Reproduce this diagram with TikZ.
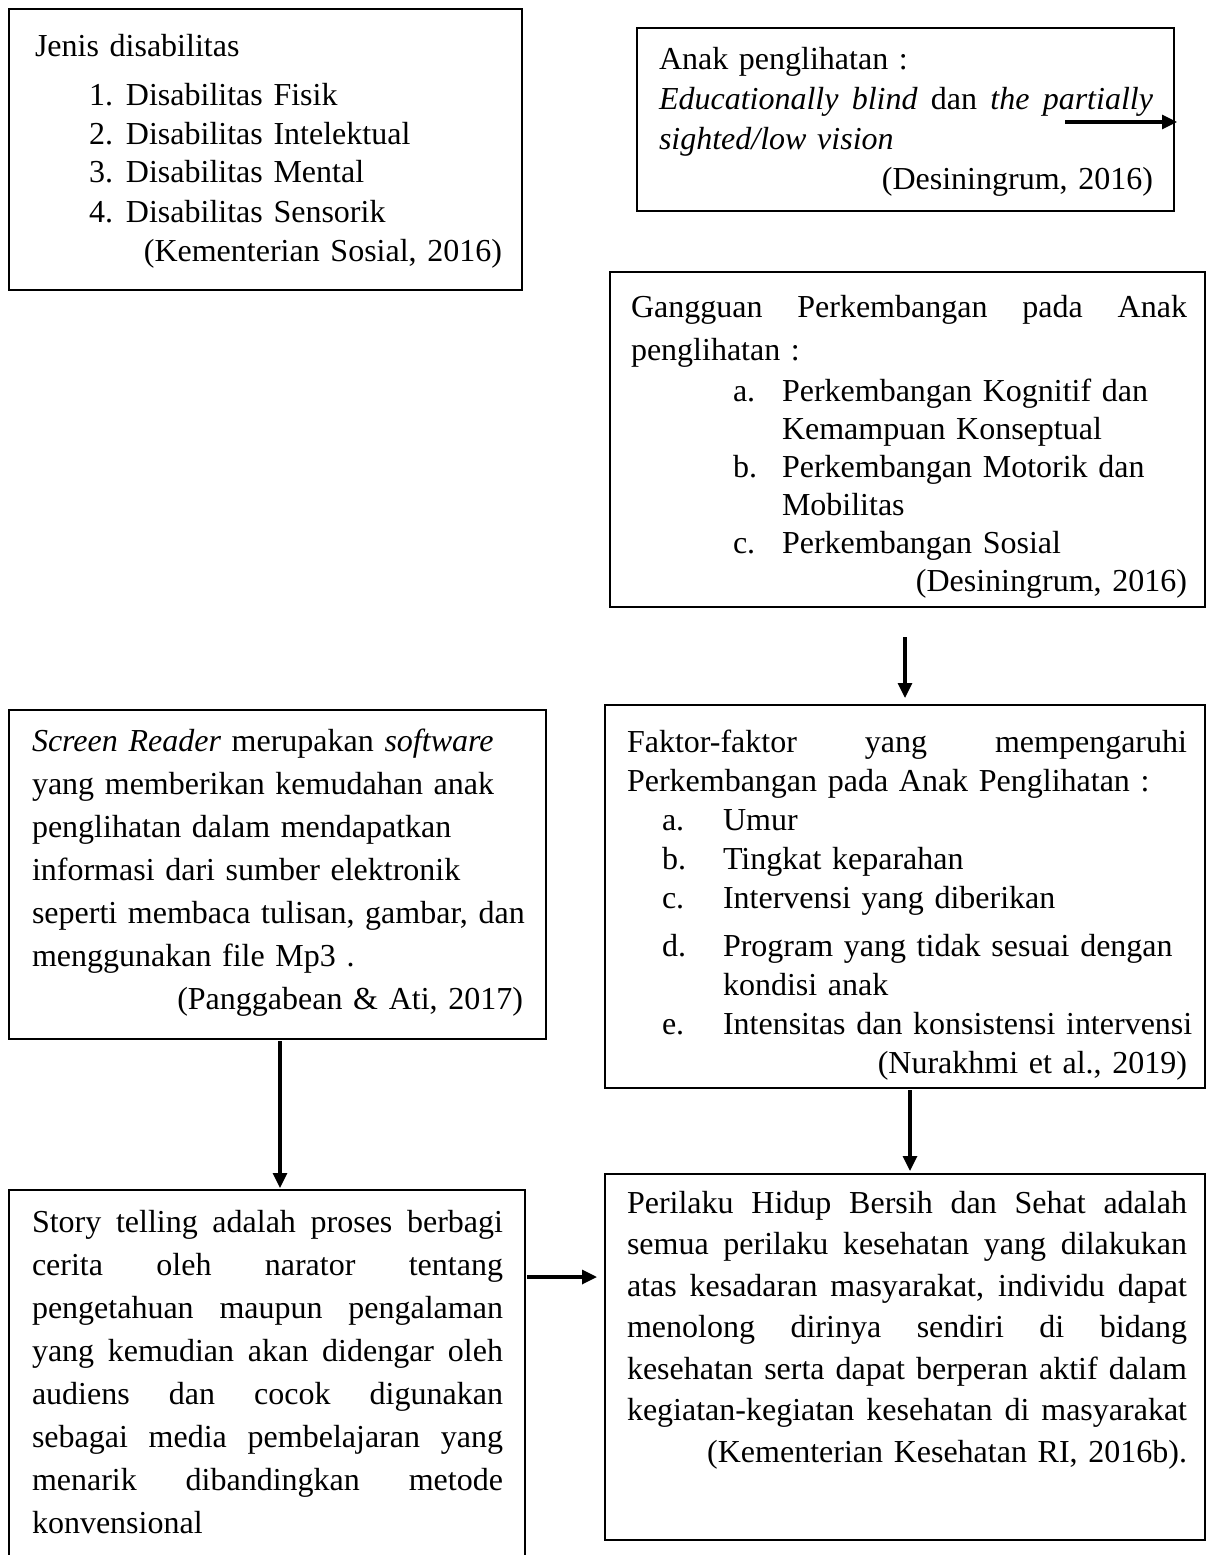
\documentclass[tikz,border=0pt]{standalone}
\usepackage{fontspec}
\setmainfont{Liberation Serif}
\usetikzlibrary{arrows.meta}
\tikzset{
  box/.style={draw, line width=2.2pt, anchor=north west, inner sep=0pt, outer sep=0pt},
  txt/.style={anchor=base west, inner sep=0pt, outer sep=0pt, align=left, text width=#1},
  lsk/.style={font=\fontsize{32pt}{#1}\selectfont},
  arr/.style={line width=3.2pt, -{Triangle[length=15pt,width=14pt]}}
}
\newcommand{\jline}[1]{\makebox[\linewidth][s]{\spaceskip=.25em plus 1fil\relax#1}}
\newcommand{\rline}[1]{\makebox[\linewidth][r]{#1}}
\newcommand{\oneline}[1]{\mbox{#1}}
\begin{document}
\begin{tikzpicture}[x=1pt,y=-1pt]
\useasboundingbox (0,0) rectangle (1206,1555);
\clip (0,0) rectangle (1206,1555);

% boxes
\node[box, minimum width=513pt, minimum height=281pt] (b1) at (9,9) {};
\node[box, minimum width=537pt, minimum height=183pt] (b2) at (637,28) {};
\node[box, minimum width=595pt, minimum height=335pt] (b3) at (610,272) {};
\node[box, minimum width=600pt, minimum height=383pt] (b4) at (605,705) {};
\node[box, minimum width=537pt, minimum height=329pt] (b5) at (9,710) {};
\node[box, minimum width=516pt, minimum height=420pt] (b6) at (9,1190) {};
\node[box, minimum width=600pt, minimum height=366pt] (b7) at (605,1174) {};

% texts
\node[txt=467pt, lsk=39pt] (t1) at (35,57) {\oneline{Jenis disabilitas}\\[9pt]
\oneline{\hspace*{54pt}\makebox[37pt][l]{1.}Disabilitas Fisik}\\
\oneline{\hspace*{54pt}\makebox[37pt][l]{2.}Disabilitas Intelektual}\\
\oneline{\hspace*{54pt}\makebox[37pt][l]{3.}Disabilitas Mental}\\
\oneline{\hspace*{54pt}\makebox[37pt][l]{4.}Disabilitas Sensorik}\\
\rline{(Kementerian Sosial, 2016)}};

\node[txt=494pt, lsk=40pt] (t2) at (659,70) {\oneline{Anak penglihatan :}\\
\jline{\textit{Educationally} \textit{blind} dan \textit{the} \textit{partially}}\\
\oneline{\textit{sighted/low vision}}\\
\rline{(Desiningrum, 2016)}};

\node[txt=556pt, lsk=38pt] (t3) at (631,317) {\jline{Gangguan Perkembangan pada Anak}\\[5pt]
\oneline{penglihatan :}\\[3pt]
\oneline{\hspace*{102pt}\makebox[49pt][l]{a.}Perkembangan Kognitif dan}\\
\oneline{\hspace*{151pt}Kemampuan Konseptual}\\
\oneline{\hspace*{102pt}\makebox[49pt][l]{b.}Perkembangan Motorik dan}\\
\oneline{\hspace*{151pt}Mobilitas}\\
\oneline{\hspace*{102pt}\makebox[49pt][l]{c.}Perkembangan Sosial}\\
\rline{(Desiningrum, 2016)}};

\node[txt=560pt, lsk=39pt] (t4) at (627,752) {\jline{Faktor-faktor yang mempengaruhi}\\
\oneline{Perkembangan pada Anak Penglihatan :}\\
\oneline{\hspace*{35pt}\makebox[61pt][l]{a.}Umur}\\
\oneline{\hspace*{35pt}\makebox[61pt][l]{b.}Tingkat keparahan}\\
\oneline{\hspace*{35pt}\makebox[61pt][l]{c.}Intervensi yang diberikan}\\[9pt]
\oneline{\hspace*{35pt}\makebox[61pt][l]{d.}Program yang tidak sesuai dengan}\\
\oneline{\hspace*{96pt}kondisi anak}\\
\oneline{\hspace*{35pt}\makebox[61pt][l]{e.}Intensitas dan konsistensi intervensi}\\
\rline{(Nurakhmi et al., 2019)}};

\node[txt=491pt, lsk=43pt] (t5) at (32,751) {\oneline{\textit{Screen Reader} merupakan \textit{software}}\\
\oneline{yang memberikan kemudahan anak}\\
\oneline{penglihatan dalam mendapatkan}\\
\oneline{informasi dari sumber elektronik}\\
\oneline{seperti membaca tulisan, gambar, dan}\\
\oneline{menggunakan file Mp3 .}\\
\rline{(Panggabean \& Ati, 2017)}};

\node[txt=471pt, lsk=43pt] (t6) at (32,1232) {\jline{Story telling adalah proses berbagi}\\
\jline{cerita oleh narator tentang}\\
\jline{pengetahuan maupun pengalaman}\\
\jline{yang kemudian akan didengar oleh}\\
\jline{audiens dan cocok digunakan}\\
\jline{sebagai media pembelajaran yang}\\
\jline{menarik dibandingkan metode}\\
\oneline{konvensional}};

\node[txt=560pt, lsk=41.5pt] (t7) at (627,1213) {\jline{Perilaku Hidup Bersih dan Sehat adalah}\\
\jline{semua perilaku kesehatan yang dilakukan}\\
\jline{atas kesadaran masyarakat, individu dapat}\\
\jline{menolong dirinya sendiri di bidang}\\
\jline{kesehatan serta dapat berperan aktif dalam}\\
\jline{kegiatan-kegiatan kesehatan di masyarakat}\\
\rline{(Kementerian Kesehatan RI, 2016b).}};

% connector end points
\coordinate (a1s) at (1065,122);
\coordinate (a1e) at (1177,122);
\coordinate (a2s) at (905,637);
\coordinate (a2e) at (905,698);
\coordinate (a3s) at (280,1041);
\coordinate (a3e) at (280,1188);
\coordinate (a4s) at (910,1090);
\coordinate (a4e) at (910,1171);
\coordinate (a5s) at (527,1277);
\coordinate (a5e) at (597,1277);

\draw[arr] (a1s) -- (a1e);
\draw[arr] (a2s) -- (a2e);
\draw[arr] (a3s) -- (a3e);
\draw[arr] (a4s) -- (a4e);
\draw[arr] (a5s) -- (a5e);
\end{tikzpicture}
\end{document}
